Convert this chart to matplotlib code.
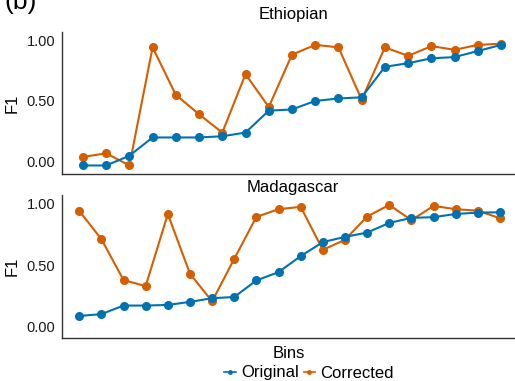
import numpy as np
import matplotlib
matplotlib.use("Agg")
import matplotlib.pyplot as plt
from matplotlib.lines import Line2D

plt.rcParams['font.family'] = ['Liberation Sans', 'DejaVu Sans']

# Ethiopian panel (19 bins)
eth_original = [-0.03, -0.03, 0.05, 0.20, 0.20, 0.20, 0.21, 0.24, 0.42, 0.43,
                0.50, 0.52, 0.53, 0.78, 0.81, 0.85, 0.86, 0.91, 0.96]
eth_corrected = [0.04, 0.07, -0.03, 0.94, 0.55, 0.39, 0.24, 0.72, 0.45, 0.88,
                 0.96, 0.94, 0.51, 0.94, 0.87, 0.95, 0.92, 0.96, 0.97]

# Madagascar panel (20 bins)
mad_original = [0.085, 0.10, 0.17, 0.17, 0.175, 0.20, 0.23, 0.24, 0.375, 0.443,
                0.574, 0.688, 0.731, 0.766, 0.845, 0.886, 0.892, 0.918, 0.929, 0.932]
mad_corrected = [0.943, 0.712, 0.378, 0.329, 0.918, 0.43, 0.204, 0.552, 0.894, 0.957,
                 0.976, 0.625, 0.707, 0.897, 0.992, 0.867, 0.984, 0.957, 0.945, 0.883]

yticks = [0.0, 0.5, 1.0]
ytick_labels = ["0.00", "0.50", "1.00"]

blue = "#0072B2"
orange = "#D55E00"

W, H = 515, 381
fig = plt.figure(figsize=(W / 100, H / 100), dpi=100)


def px_axes(left, top, right, bottom):
    return fig.add_axes([left / W, 1 - bottom / H, (right - left) / W, (bottom - top) / H])


def panel(ax, orig, corr, title, xlim, ylim, tpad):
    x = np.arange(1, len(orig) + 1)
    ax.plot(x, orig, color=blue, lw=1.5, marker="o", ms=5.5, zorder=3)
    ax.plot(x, corr, color=orange, lw=1.5, marker="o", ms=5.5, zorder=2)
    ax.set_xlim(*xlim)
    ax.set_ylim(*ylim)
    ax.set_xticks([])
    ax.set_yticks(yticks)
    ax.set_yticklabels(ytick_labels, fontsize=10.5, color="#1a1a1a")
    ax.tick_params(axis="y", length=0, pad=5)
    for s in ["top", "right"]:
        ax.spines[s].set_visible(False)
    for s in ["left", "bottom"]:
        ax.spines[s].set_linewidth(1.0)
        ax.spines[s].set_color("#333333")
    ax.set_ylabel("F1", fontsize=12, labelpad=5)
    ax.set_title(title, fontsize=12, pad=tpad, x=0.51)


ax1 = px_axes(62, 32, 515, 174)
panel(ax1, eth_original, eth_corrected, "Ethiopian", (0.1, 19.6), (-0.10, 1.066), 9)

ax2 = px_axes(62, 195, 515, 338)
panel(ax2, mad_original, mad_corrected, "Madagascar", (0.22, 20.68), (-0.095, 1.073), 2)
ax2.set_xlabel("Bins", fontsize=12, labelpad=6)

handles = [Line2D([], [], color=blue, lw=1.2, marker="o", ms=2.5),
           Line2D([], [], color=orange, lw=1.2, marker="o", ms=2.5)]
fig.legend(handles, ["Original", "Corrected"], loc="center", bbox_to_anchor=(309 / W, 1 - 373 / H),
           ncol=2, frameon=False, fontsize=12, handlelength=0.7, handletextpad=0.3,
           columnspacing=0.3, borderpad=0)

fig.text(4 / W, 1 - 9 / H, "(b)", fontsize=19, va="baseline", ha="left")

fig.savefig("out.png", dpi=100)
